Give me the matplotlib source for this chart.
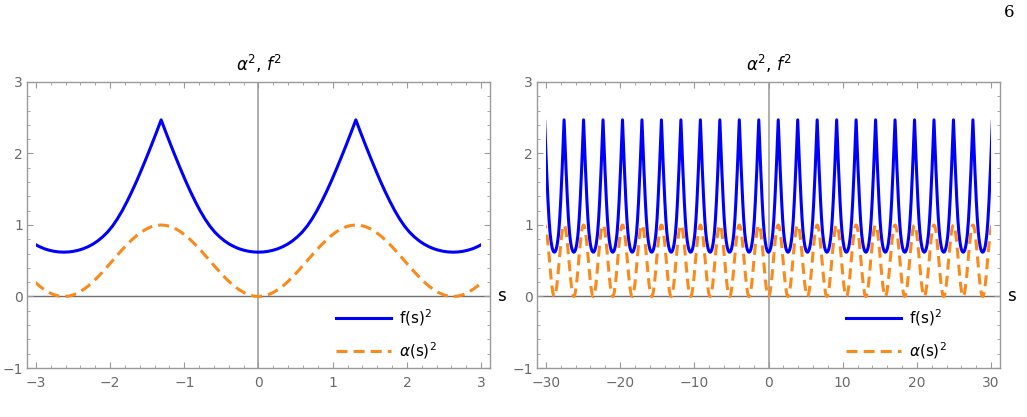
import numpy as np
import matplotlib.pyplot as plt
from matplotlib.patches import Rectangle
from matplotlib.ticker import MultipleLocator

# one half period of the curves (s from 0 up to the peak)
half_s = [0.0, 0.0656, 0.1312, 0.1968, 0.2624, 0.328, 0.3936, 0.4592, 0.5248, 0.5904,
          0.656, 0.7216, 0.7872, 0.8528, 0.9184, 0.984, 1.0496, 1.1152, 1.1808, 1.2464, 1.312]
half_alpha2 = [0.0, 0.006, 0.024, 0.055, 0.096, 0.146, 0.206, 0.273, 0.346, 0.422,
               0.5, 0.578, 0.655, 0.727, 0.794, 0.854, 0.905, 0.946, 0.976, 0.994, 1.0]
half_f2 = [0.620, 0.623, 0.632, 0.647, 0.668, 0.697, 0.733, 0.779, 0.835, 0.902,
           0.985, 1.085, 1.200, 1.330, 1.470, 1.620, 1.780, 1.945, 2.115, 2.290, 2.470]
period = 2.624

left_xticks = [-3, -2, -1, 0, 1, 2, 3]
right_xticks = [-30, -20, -10, 0, 10, 20, 30]
yticks = [-1, 0, 1, 2, 3]

BLUE = '#0000ff'
ORANGE = '#fb8a1c'
GRAY = '#9a9a9a'
LABEL = '#6a6a6a'


def one_period():
    s = np.array(half_s)
    s_full = np.concatenate([s, period - s[::-1][1:]])
    a_full = np.concatenate([half_alpha2, half_alpha2[::-1][1:]])
    f_full = np.concatenate([half_f2, half_f2[::-1][1:]])
    return s_full, a_full, f_full


def repeat(smin, smax):
    s_p, a_p, f_p = one_period()
    ss, aa, ff = [], [], []
    k0 = int(np.floor(smin / period)) - 1
    k1 = int(np.ceil(smax / period)) + 1
    for k in range(k0, k1):
        ss.append(s_p[:-1] + k * period)
        aa.append(a_p[:-1])
        ff.append(f_p[:-1])
    ss, aa, ff = np.concatenate(ss), np.concatenate(aa), np.concatenate(ff)
    keep = (ss > smin - 0.5) & (ss < smax + 0.5)
    return ss[keep], aa[keep], ff[keep]


def panel(ax, smax, xlim, xticks, xminor):
    s, a2, f2 = repeat(-smax, smax)
    clip = Rectangle((-smax, -1), 2 * smax, 4, transform=ax.transData)
    l1, = ax.plot(s, f2, color=BLUE, lw=2.2, label=r'f(s)$^2$', zorder=3)
    l2, = ax.plot(s, a2, color=ORANGE, lw=2.2, dashes=(3.6, 2.0),
                  label=r'$\alpha$(s)$^2$', zorder=3)
    l1.set_clip_path(clip)
    l2.set_clip_path(clip)
    ax.axhline(0, color='#707070', lw=1.0, zorder=1)
    ax.axvline(0, color='#a0a0a0', lw=1.2, zorder=1)
    ax.set_xlim(*xlim)
    ax.set_ylim(-1, 3)
    ax.set_xticks(xticks)
    ax.set_xticklabels([str(t).replace('-', '\u2212') for t in xticks])
    ax.set_yticks(yticks)
    ax.set_yticklabels([str(t).replace('-', '\u2212') for t in yticks])
    ax.xaxis.set_minor_locator(MultipleLocator(xminor))
    ax.yaxis.set_minor_locator(MultipleLocator(0.2))
    ax.tick_params(which='both', direction='in', top=True, right=True,
                   color=GRAY, labelcolor=LABEL, labelsize=10, pad=3)
    ax.tick_params(which='major', length=4, width=0.8)
    ax.tick_params(which='minor', length=2.5, width=0.6)
    ax.tick_params(axis='x', pad=6)
    for sp in ax.spines.values():
        sp.set_color(GRAY)
        sp.set_linewidth(1.0)
    ax.set_title(r'$\alpha^2$, $f^2$', fontsize=12, pad=8)
    ax.text(1.025, 0.25, 's', transform=ax.transAxes, fontsize=12,
            ha='center', va='center')
    leg = ax.legend(loc='lower right', frameon=False, fontsize=11,
                    handlelength=3.6, handletextpad=0.5, labelspacing=0.8,
                    bbox_to_anchor=(0.914, -0.024))
    return leg


fig = plt.figure(figsize=(10.27, 4.17), dpi=100)
ax1 = fig.add_axes([0.0263, 0.1175, 0.4508, 0.6859])
ax2 = fig.add_axes([0.5229, 0.1175, 0.4508, 0.6859])

panel(ax1, 3, (-3.12, 3.12), left_xticks, 0.2)
panel(ax2, 30, (-31.2, 31.2), right_xticks, 2)

fig.text(0.983, 0.97, '6', fontsize=12, family='DejaVu Serif', ha='center', va='center')

fig.savefig('out.png', dpi=100)
